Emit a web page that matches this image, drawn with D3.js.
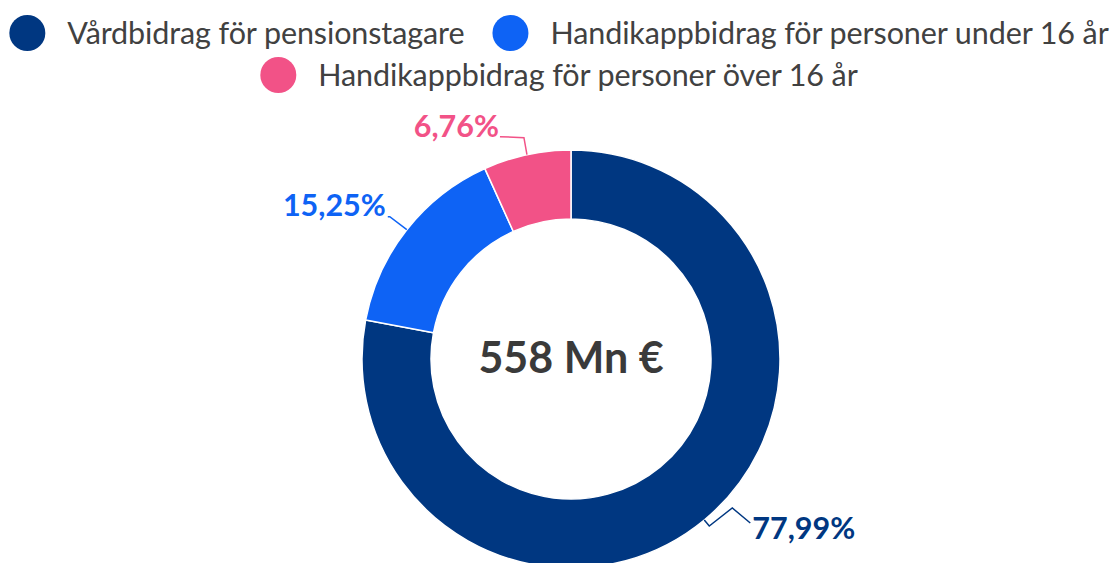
<!DOCTYPE html>
<html>
<head>
<meta charset="utf-8">
<script src="https://cdn.jsdelivr.net/npm/d3@7"></script>
<style>
  body { margin: 0; background: #fff; }
  svg { display: block; font-family: Lato, "Noto Sans", sans-serif; }
</style>
</head>
<body>
<svg id="chart" width="1114" height="563"></svg>
<script>
// Data
var categories = ["Vårdbidrag för pensionstagare", "Handikappbidrag för personer under 16 år", "Handikappbidrag för personer över 16 år"];
var shares = [77.99, 15.25, 6.76];
var labels = ["77,99%", "15,25%", "6,76%"];
var colors = ["#003781", "#0e63f5", "#f25287"];
var totalLabel = "558 Mn €";

var width = 1114, height = 563;
var cx = 571, cy = 359;
var outerR = 209, innerR = 140;

var svg = d3.select("#chart");

// Legend
var legendFont = 30.5;
var legend = svg.append("g").attr("class", "legend");
var rows = [[0, 1], [2]];
var rowY = [33, 75];

rows.forEach(function(row, r) {
  var g = legend.append("g");
  var x = 0;
  row.forEach(function(idx, k) {
    var item = g.append("g").attr("transform", "translate(" + x + ",0)");
    item.append("circle")
      .attr("cx", 18).attr("cy", 0).attr("r", 18)
      .attr("fill", colors[idx]);
    var t = item.append("text")
      .attr("x", 58).attr("y", 0)
      .attr("dy", "0.35em")
      .attr("fill", "#414141")
      .style("font-size", legendFont + "px")
      .style("letter-spacing", "-0.1px")
      .text(categories[idx]);
    x += 58 + t.node().getComputedTextLength() + 28;
  });
  var w = x - 28;
  g.attr("transform", "translate(" + (559 - w / 2) + "," + rowY[r] + ")");
});

// Donut
var pie = d3.pie().sort(null).value(function(d) { return d; });
var arcs = pie(shares);
var arc = d3.arc().innerRadius(innerR).outerRadius(outerR);

var donut = svg.append("g").attr("transform", "translate(" + cx + "," + cy + ")");

donut.selectAll(".slice")
  .data(arcs)
  .enter()
  .append("path")
  .attr("class", "slice")
  .attr("d", arc)
  .attr("fill", function(d, i) { return colors[i]; })
  .attr("stroke", "#ffffff")
  .attr("stroke-width", 1.5)
  .attr("stroke-linejoin", "round");

// Centre total
donut.append("text")
  .attr("x", 0).attr("y", 14)
  .attr("text-anchor", "middle")
  .attr("fill", "#3a3a3a")
  .style("font-size", "43px")
  .style("font-weight", "700")
  .text(totalLabel);

// Data labels with connectors (bends relative to the slice edge point)
var labelLayout = [
  { anchor: "start", bends: [[5, 6], [28, -12]], end: [46, 3], text: [48, 19] },
  { anchor: "end",   bends: [[-17, -13]],       end: [-19, -13], text: [-21, -14] },
  { anchor: "end",   bends: [[-3, -17]],        end: [-27, -18], text: [-28, -18] }
];

arcs.forEach(function(d, i) {
  var mid = (d.startAngle + d.endAngle) / 2;
  var ex = Math.sin(mid) * outerR;
  var ey = -Math.cos(mid) * outerR;
  var lay = labelLayout[i];
  var pts = [[ex, ey]];
  lay.bends.forEach(function(b) { pts.push([ex + b[0], ey + b[1]]); });
  pts.push([ex + lay.end[0], ey + lay.end[1]]);

  donut.append("path")
    .attr("d", d3.line()(pts))
    .attr("fill", "none")
    .attr("stroke", colors[i])
    .attr("stroke-width", 1.5);

  donut.append("text")
    .attr("x", ex + lay.text[0])
    .attr("y", ey + lay.text[1])
    .attr("text-anchor", lay.anchor)
    .attr("fill", colors[i])
    .style("font-size", "30.5px")
    .style("font-weight", "700")
    .text(labels[i]);
});
</script>
</body>
</html>
